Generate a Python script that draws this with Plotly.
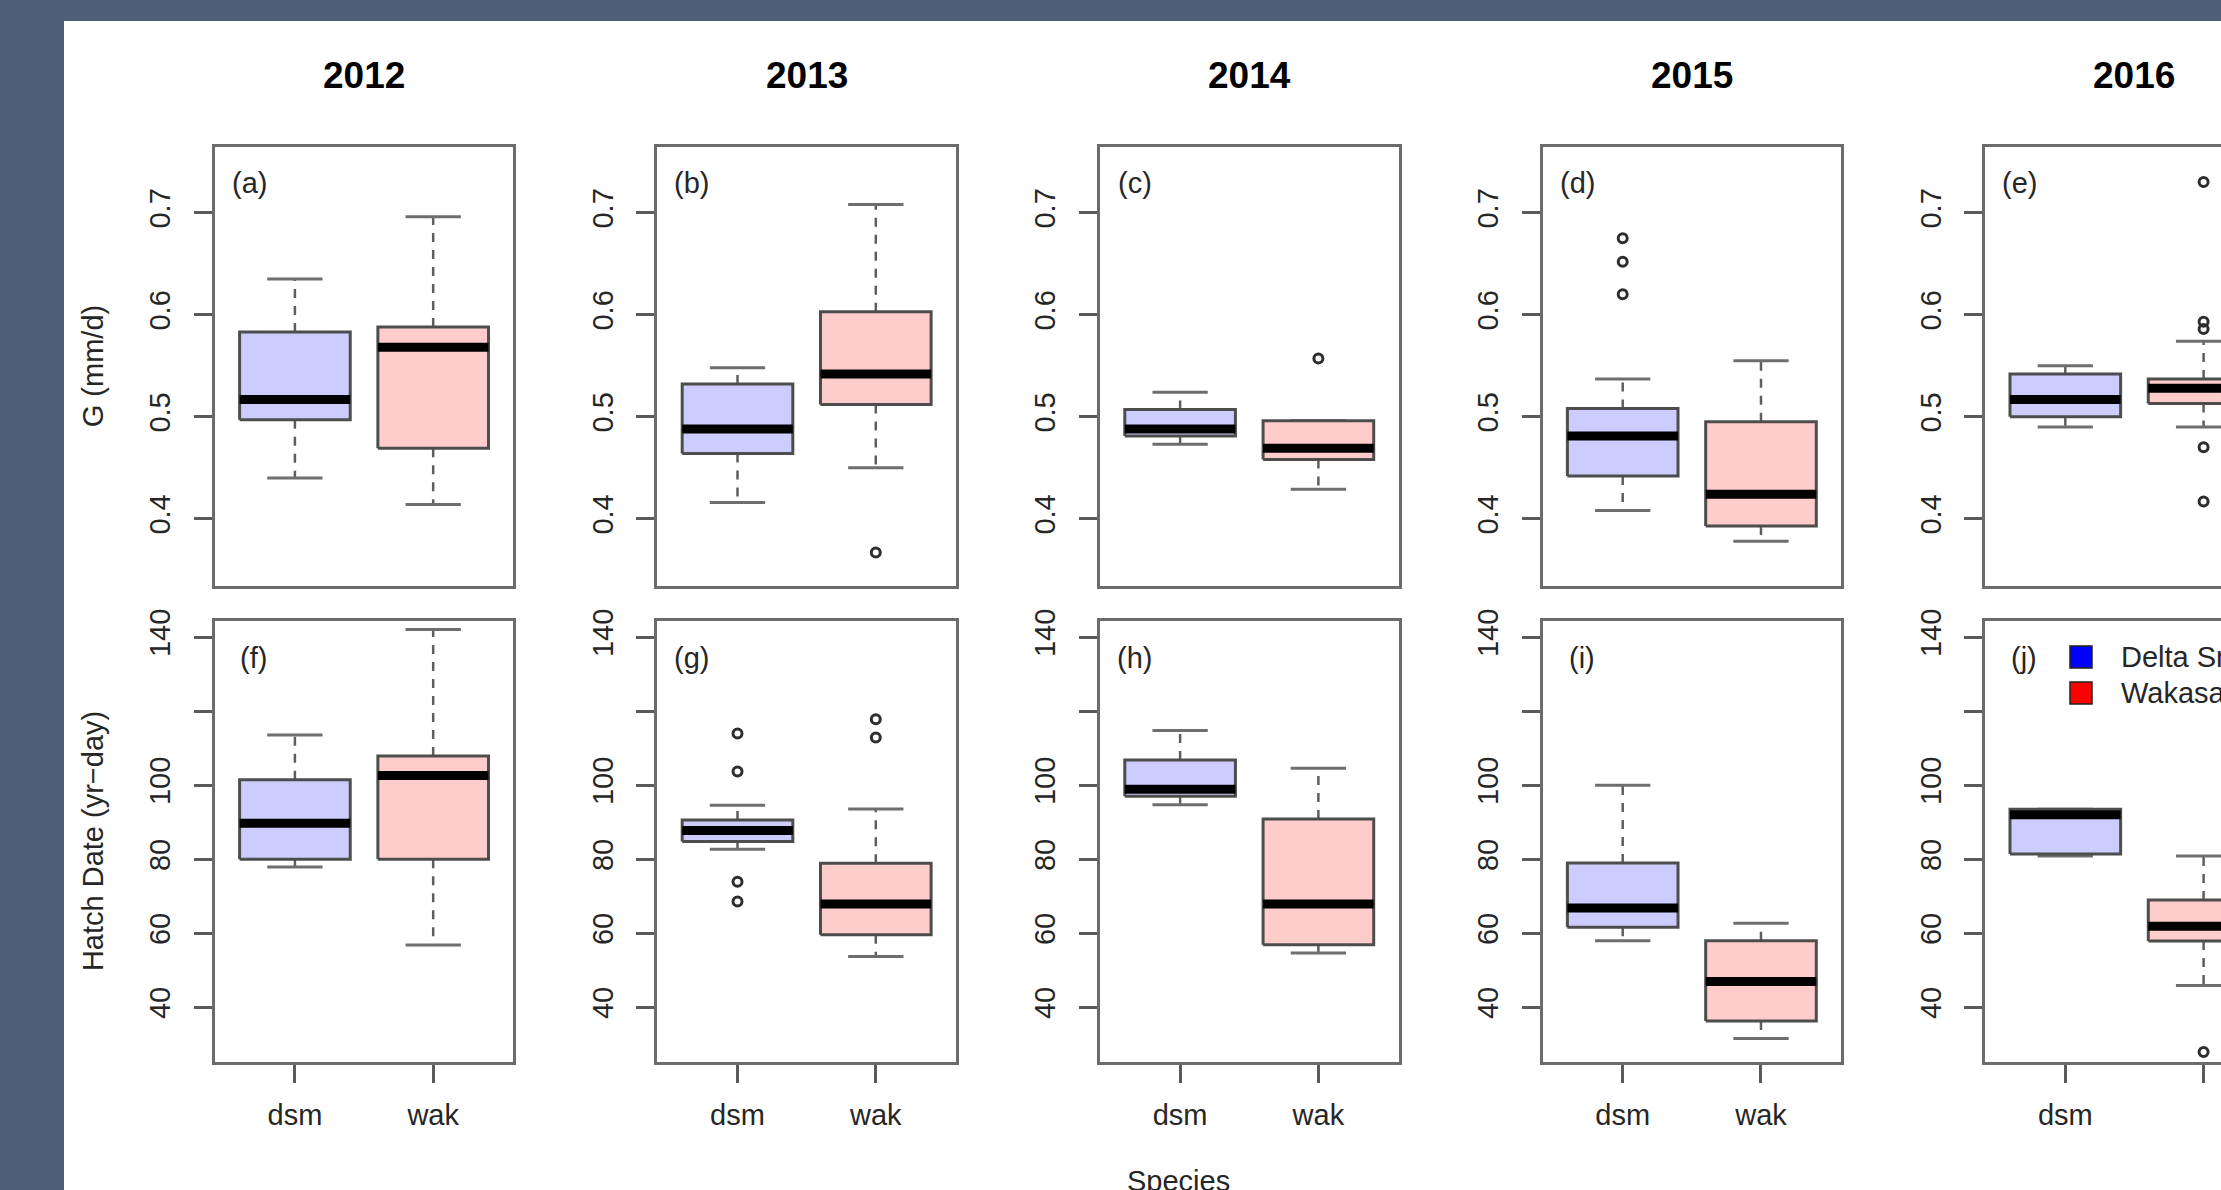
import plotly.graph_objects as go

W, H = 2221, 1190

# ---------------------------------------------------------------- data
years = ["2012", "2013", "2014", "2015", "2016"]
species = ["dsm", "wak"]
species_names = ["Delta Smelt", "Wakasagi"]
growth_tags = ["(a)", "(b)", "(c)", "(d)", "(e)"]
hatch_tags = ["(f)", "(g)", "(h)", "(i)", "(j)"]

# Growth rate G (mm/d) by year: lower whisker, Q1, median, Q3, upper whisker, outliers
g_dsm_lo = [0.440, 0.416, 0.473, 0.408, 0.490]
g_dsm_q1 = [0.497, 0.464, 0.481, 0.442, 0.500]
g_dsm_med = [0.517, 0.488, 0.488, 0.481, 0.517]
g_dsm_q3 = [0.583, 0.532, 0.507, 0.508, 0.542]
g_dsm_hi = [0.635, 0.548, 0.524, 0.537, 0.550]
g_dsm_out = [[], [], [], [0.620, 0.652, 0.675], []]

g_wak_lo = [0.414, 0.450, 0.429, 0.378, 0.490]
g_wak_q1 = [0.469, 0.512, 0.458, 0.393, 0.513]
g_wak_med = [0.568, 0.542, 0.469, 0.424, 0.528]
g_wak_q3 = [0.588, 0.603, 0.496, 0.495, 0.537]
g_wak_hi = [0.696, 0.708, 0.496, 0.555, 0.574]
g_wak_out = [[], [0.367], [0.557], [], [0.417, 0.470, 0.586, 0.593, 0.730]]

# Hatch date (day of year) by year
h_dsm_lo = [77.9, 82.7, 94.7, 58.0, 80.9]
h_dsm_q1 = [80.0, 84.8, 97.0, 61.6, 81.4]
h_dsm_med = [89.7, 87.8, 98.9, 66.8, 92.0]
h_dsm_q3 = [101.5, 90.6, 106.8, 79.0, 93.5]
h_dsm_hi = [113.6, 94.6, 114.8, 100.0, 93.5]
h_dsm_out = [[], [68.6, 73.9, 103.7, 114.0], [], [], []]

h_wak_lo = [56.8, 53.7, 54.7, 31.6, 45.9]
h_wak_q1 = [80.0, 59.6, 56.9, 36.3, 57.9]
h_wak_med = [102.6, 67.9, 67.9, 47.0, 61.9]
h_wak_q3 = [107.9, 78.9, 90.9, 58.0, 69.0]
h_wak_hi = [142.1, 93.6, 104.6, 62.7, 80.9]
h_wak_out = [[], [112.9, 117.8], [], [], [27.9]]

g_ticks = [0.4, 0.5, 0.6, 0.7]
g_ticktext = ["0.4", "0.5", "0.6", "0.7"]
h_ticks = [40, 60, 80, 100, 120, 140]
h_ticktext = ["40", "60", "80", "100", "", "140"]

# ---------------------------------------------------------------- style
BG = "#4f5f78"
FRAME = "#6b6b6b"
BORDER = "#4d4d4d"
WHISK = "#5e5e5e"
TXT = "#262626"
FONT = "Liberation Sans, Arial, Helvetica, sans-serif"
FILLS = ["rgb(204,204,255)", "rgb(255,204,204)"]
FS = 29

# panel geometry (pixels)
COL_LEFT = [214.7, 657.3, 1099.9, 1542.5, 1985.1]
PANEL_W = 298.7
ROW_TOP = [147.1, 620.9]
ROW_BOT = [586.4, 1061.7]
XLO, XHI = 0.42, 2.58
PX_PER_X = PANEL_W / (XHI - XLO)
Y_RANGES = [[0.3337, 0.7643], [25.3, 144.4]]


def fx(px):
    return px / W


def fy(py):
    return 1 - py / H


def box_traces(k, pos, fill, lo, q1, med, q3, hi, out):
    xa, ya = f"x{k}", f"y{k}"
    hw, sw = 0.4, 0.2
    common = dict(xaxis=xa, yaxis=ya, showlegend=False, hoverinfo="skip", mode="lines")
    tr = []
    # dashed whiskers
    tr.append(go.Scatter(x=[pos, pos, None, pos, pos], y=[q3, hi, None, q1, lo],
                         line=dict(color=WHISK, width=2.5, dash="9px,8px"), **common))
    # staples
    tr.append(go.Scatter(x=[pos - sw, pos + sw, None, pos - sw, pos + sw],
                         y=[hi, hi, None, lo, lo],
                         line=dict(color="#6e6e6e", width=3), **common))
    # box body
    tr.append(go.Scatter(x=[pos - hw, pos + hw, pos + hw, pos - hw, pos - hw],
                         y=[q1, q1, q3, q3, q1], fill="toself", fillcolor=fill,
                         line=dict(color=BORDER, width=3), **common))
    # median bar
    tr.append(go.Scatter(x=[pos - hw, pos + hw], y=[med, med],
                         line=dict(color="black", width=9), **common))
    if out:
        tr.append(go.Scatter(x=[pos] * len(out), y=out, mode="markers",
                             marker=dict(symbol="circle-open", size=9, color="#2e2e2e",
                                         line=dict(color="#2e2e2e", width=3)),
                             xaxis=xa, yaxis=ya, showlegend=False, hoverinfo="skip"))
    return tr


growth = [
    (g_dsm_lo, g_dsm_q1, g_dsm_med, g_dsm_q3, g_dsm_hi, g_dsm_out),
    (g_wak_lo, g_wak_q1, g_wak_med, g_wak_q3, g_wak_hi, g_wak_out),
]
hatch = [
    (h_dsm_lo, h_dsm_q1, h_dsm_med, h_dsm_q3, h_dsm_hi, h_dsm_out),
    (h_wak_lo, h_wak_q1, h_wak_med, h_wak_q3, h_wak_hi, h_wak_out),
]

fig = go.Figure()
layout = {}
annotations = []

for r, (stats, tags, ticks, ticktext) in enumerate(
        [(growth, growth_tags, g_ticks, g_ticktext),
         (hatch, hatch_tags, h_ticks, h_ticktext)]):
    for c in range(len(years)):
        k = r * len(years) + c + 1
        left = COL_LEFT[c]
        right = min(left + PANEL_W, W)
        xmax = XLO + (right - left) / PX_PER_X
        for s in range(len(species)):
            lo, q1, med, q3, hi, out = (a[c] for a in stats[s])
            for t in box_traces(k, s + 1, FILLS[s], lo, q1, med, q3, hi, out):
                fig.add_trace(t)

        xa = dict(domain=[fx(left), fx(right)], range=[XLO, xmax], anchor=f"y{k}",
                  showline=True, mirror=True, linecolor=FRAME, linewidth=3,
                  showgrid=False, zeroline=False, fixedrange=True, automargin=False)
        if r == 1:
            xa.update(tickmode="array", tickvals=[1, 2], ticktext=species,
                      ticks="outside", ticklen=18, tickwidth=2.5, tickcolor="#5a5a5a",
                      tickfont=dict(family=FONT, size=FS, color=TXT),
                      ticklabelstandoff=7)
        else:
            xa.update(showticklabels=False, ticks="")
        ya = dict(domain=[fy(ROW_BOT[r]), fy(ROW_TOP[r])], range=Y_RANGES[r],
                  anchor=f"x{k}", showline=True, mirror=(c < len(years) - 1),
                  linecolor=FRAME, linewidth=3, showgrid=False, zeroline=False,
                  tickmode="array", tickvals=ticks, ticktext=ticktext,
                  ticks="outside", ticklen=18, tickwidth=2.5, tickcolor="#5a5a5a",
                  tickangle=-90, tickfont=dict(family=FONT, size=FS, color=TXT),
                  ticklabelstandoff=12, fixedrange=True, automargin=False)
        layout[f"xaxis{k}"] = xa
        layout[f"yaxis{k}"] = ya

        # panel tag in the upper-left corner
        tag_y = 0.7295 if r == 0 else 134.5
        annotations.append(dict(text=tags[c], x=XLO + 54 / PX_PER_X, y=tag_y,
                                xref=f"x{k}", yref=f"y{k}", xanchor="right",
                                yanchor="middle", showarrow=False,
                                font=dict(family=FONT, size=FS, color=TXT)))

# year titles above each column
for c, yr in enumerate(years):
    annotations.append(dict(text=f"<b>{yr}</b>", x=fx(COL_LEFT[c] + PANEL_W / 2), y=fy(75.7),
                            xref="paper", yref="paper", xanchor="center", yanchor="middle",
                            showarrow=False, font=dict(family=FONT, size=37, color="black")))

# axis titles
annotations.append(dict(text="G (mm/d)", x=fx(92.5), y=fy((ROW_TOP[0] + ROW_BOT[0]) / 2),
                        xref="paper", yref="paper", textangle=-90, showarrow=False,
                        xanchor="center", yanchor="middle",
                        font=dict(family=FONT, size=FS, color=TXT)))
annotations.append(dict(text="Hatch Date (yr\u2212day)", x=fx(92.8),
                        y=fy((ROW_TOP[1] + ROW_BOT[1]) / 2),
                        xref="paper", yref="paper", textangle=-90, showarrow=False,
                        xanchor="center", yanchor="middle",
                        font=dict(family=FONT, size=FS, color=TXT)))
annotations.append(dict(text="Species", x=fx(1178), y=fy(1181), xref="paper", yref="paper",
                        xanchor="center", yanchor="middle", showarrow=False,
                        font=dict(family=FONT, size=FS, color=TXT)))

# white page behind the panels, and the species key inside panel (j)
shapes = [dict(type="rect", xref="paper", yref="paper", x0=fx(64), x1=1,
               y0=0, y1=fy(21), fillcolor="white", line=dict(width=0), layer="below")]
key_colors = ["#0000ff", "#ff0000"]
key_rows = [657, 693]
for name, col, yc in zip(species_names, key_colors, key_rows):
    shapes.append(dict(type="rect", xref="paper", yref="paper",
                       x0=fx(2070), x1=fx(2092), y0=fy(yc + 11), y1=fy(yc - 11),
                       fillcolor=col, line=dict(color="#222222", width=1.5)))
    annotations.append(dict(text=name, x=fx(2119), y=fy(yc), xref="paper", yref="paper",
                            xanchor="left", yanchor="middle", showarrow=False,
                            font=dict(family=FONT, size=FS, color=TXT)))

fig.update_layout(
    width=W, height=H,
    margin=dict(l=0, r=0, t=0, b=0, pad=0, autoexpand=False),
    paper_bgcolor=BG, plot_bgcolor="white",
    showlegend=False,
    annotations=annotations, shapes=shapes,
    **layout,
)

fig.write_html("out.html")
